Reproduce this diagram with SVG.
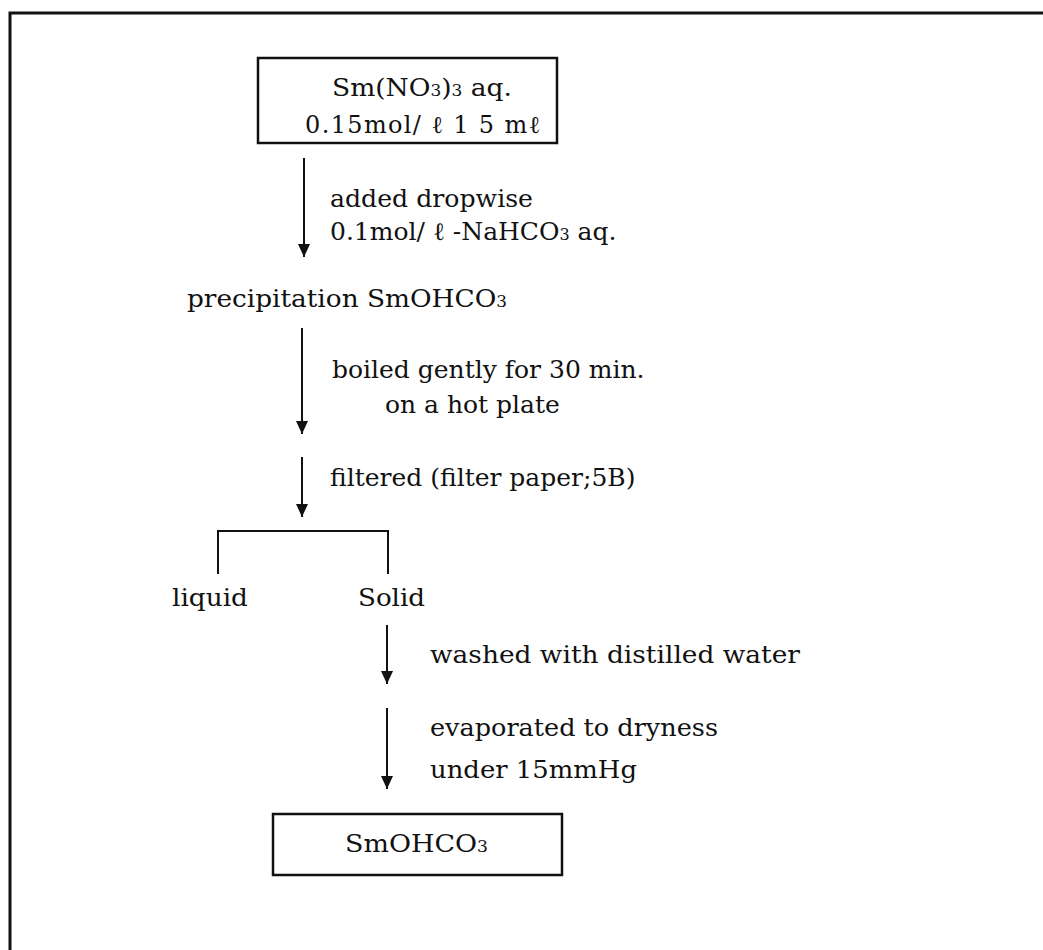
<svg xmlns="http://www.w3.org/2000/svg" width="1043" height="950" viewBox="0 0 1043 950">
<style>
text{font-family:"DejaVu Serif","Liberation Serif",serif;font-size:25px;fill:#111}
.sub{font-size:16px}
.box{fill:none;stroke:#111;stroke-width:2.5}
.ln{fill:none;stroke:#111;stroke-width:2}
</style>
<defs>
<marker id="ah" markerUnits="userSpaceOnUse" markerWidth="14" markerHeight="12" refX="13" refY="6" orient="auto" viewBox="0 0 14 12">
<path d="M0,0 L13,6 L0,12 Z" fill="#111"/>
</marker>
</defs>
<rect x="0" y="0" width="1043" height="950" fill="#fff"/>
<path d="M10,952 V13 H1045" fill="none" stroke="#111" stroke-width="3"/>
<g id="connectors">
<line class="ln" x1="304" y1="158" x2="304" y2="257" marker-end="url(#ah)"/>
<line class="ln" x1="302" y1="328" x2="302" y2="434" marker-end="url(#ah)"/>
<line class="ln" x1="302" y1="457" x2="302" y2="517" marker-end="url(#ah)"/>
<path class="ln" d="M218,574 V531 H388 V574"/>
<line class="ln" x1="387" y1="625" x2="387" y2="684" marker-end="url(#ah)"/>
<line class="ln" x1="387" y1="708" x2="387" y2="789" marker-end="url(#ah)"/>
</g>
<g id="n_start">
<rect class="box" x="258" y="58" width="299" height="85"/>
<text x="332" y="96" textLength="180" lengthAdjust="spacingAndGlyphs">Sm(NO<tspan class="sub">3</tspan>)<tspan class="sub">3</tspan> aq.</text>
<text x="305" y="133" style="font-size:24px" textLength="235" lengthAdjust="spacing">0.15mol/ ℓ  1 5 mℓ</text>
</g>
<g id="lbl_add">
<text x="330" y="207" textLength="203" lengthAdjust="spacingAndGlyphs">added dropwise</text>
<text x="330" y="240">0.1mol/ ℓ -NaHCO<tspan class="sub">3</tspan> aq.</text>
</g>
<g id="n_precip">
<text x="187" y="307" textLength="320" lengthAdjust="spacingAndGlyphs">precipitation SmOHCO<tspan class="sub">3</tspan></text>
</g>
<g id="lbl_boil">
<text x="332" y="378">boiled gently for 30 min.</text>
<text x="385" y="413">on a hot plate</text>
</g>
<g id="lbl_filter">
<text x="330" y="486">filtered (filter paper;5B)</text>
</g>
<g id="n_liquid"><text x="172" y="606" textLength="76" lengthAdjust="spacingAndGlyphs">liquid</text></g>
<g id="n_solid"><text x="358" y="606" textLength="67" lengthAdjust="spacingAndGlyphs">Solid</text></g>
<g id="lbl_wash"><text x="430" y="663" textLength="370" lengthAdjust="spacingAndGlyphs">washed with distilled water</text></g>
<g id="lbl_evap">
<text x="430" y="736" textLength="288" lengthAdjust="spacingAndGlyphs">evaporated to dryness</text>
<text x="430" y="778" textLength="207" lengthAdjust="spacingAndGlyphs">under 15mmHg</text>
</g>
<g id="n_end">
<rect class="box" x="273" y="814" width="289" height="61"/>
<text x="345" y="852" textLength="143" lengthAdjust="spacingAndGlyphs">SmOHCO<tspan class="sub">3</tspan></text>
</g>
</svg>
